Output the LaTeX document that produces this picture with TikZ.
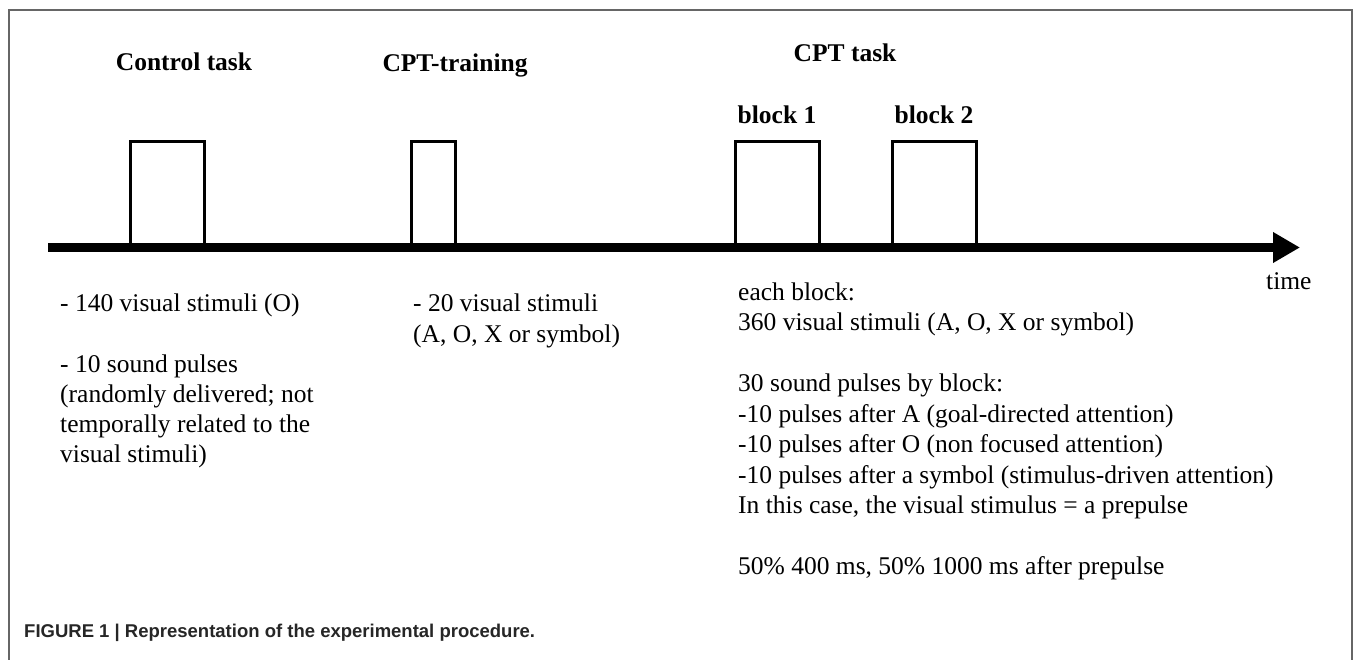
\documentclass[tikz,border=0pt]{standalone}
\usepackage{fontspec}
\setmainfont{Liberation Serif}
\newfontfamily\capfont{Liberation Sans}
\usetikzlibrary{arrows.meta}
\tikzset{
  frameline/.style={draw=black!60, line width=1.2pt},
  taskbox/.style={draw=black, line width=3pt},
  axisline/.style={line width=9pt, -{Triangle[length=27pt,width=29pt]}},
  title/.style={font=\fontsize{25.5}{30}\selectfont\bfseries, anchor=base, inner sep=0pt},
  body/.style={font=\fontsize{25.5}{30}\selectfont, anchor=base west, inner sep=0pt},
  caption/.style={font=\capfont\bfseries\fontsize{18.5}{20}\selectfont, text=black!85, anchor=base west, inner sep=0pt}
}
\begin{document}
\begin{tikzpicture}[x=1pt,y=-1pt]
\useasboundingbox (0,0) rectangle (1354,660);
\fill[white] (0,0) rectangle (1354,660);
% frame
\draw[frameline] (9,660) -- (9,10) -- (1352,10) -- (1352,660);
% axis
\coordinate (axstart) at (48,247.5);
\coordinate (axend) at (1300,247.5);
\draw[axisline] (axstart) -- (axend);
% boxes
\draw[taskbox] (130,247.5) |- (204,142) -- (204,247.5);
\draw[taskbox] (411,247.5) |- (455,142) -- (455,247.5);
\draw[taskbox] (735,247.5) |- (819,142) -- (819,247.5);
\draw[taskbox] (892,247.5) |- (976,142) -- (976,247.5);
% titles
\node[title] (t1) at (184,71) {Control task};
\node[title] (t2) at (455,72) {CPT-training};
\node[title] (t3) at (845,62) {CPT task};
\node[title] (b1) at (777,124) {block 1};
\node[title] (b2) at (934,124) {block 2};
\node[body] (time) at (1266,289) {time};
% control task texts
\node[body] (c1) at (60,312) {- 140 visual stimuli (O)};
\node[body] (c2) at (60,372) {- 10 sound pulses};
\node[body] (c3) at (60,402) {(randomly delivered; not};
\node[body] (c4) at (60,432) {temporally related to the};
\node[body] (c5) at (60,462) {visual stimuli)};
% training texts
\node[body] (r1) at (413,312) {- 20 visual stimuli};
\node[body] (r2) at (413,342) {(A, O, X or symbol)};
% CPT texts
\node[body] (p1) at (738,300) {each block:};
\node[body] (p2) at (738,330.5) {360 visual stimuli (A, O, X or symbol)};
\node[body] (p3) at (738,391.5) {30 sound pulses by block:};
\node[body] (p4) at (738,422) {-10 pulses after A (goal-directed attention)};
\node[body] (p5) at (738,452.5) {-10 pulses after O (non focused attention)};
\node[body] (p6) at (738,483) {-10 pulses after a symbol (stimulus-driven attention)};
\node[body] (p7) at (738,513.5) {In this case, the visual stimulus = a prepulse};
\node[body] (p8) at (738,574.5) {50\% 400 ms, 50\% 1000 ms after prepulse};
% caption
\node[caption] (cap) at (24,637) {FIGURE 1 | Representation of the experimental procedure.};
\end{tikzpicture}
\end{document}
